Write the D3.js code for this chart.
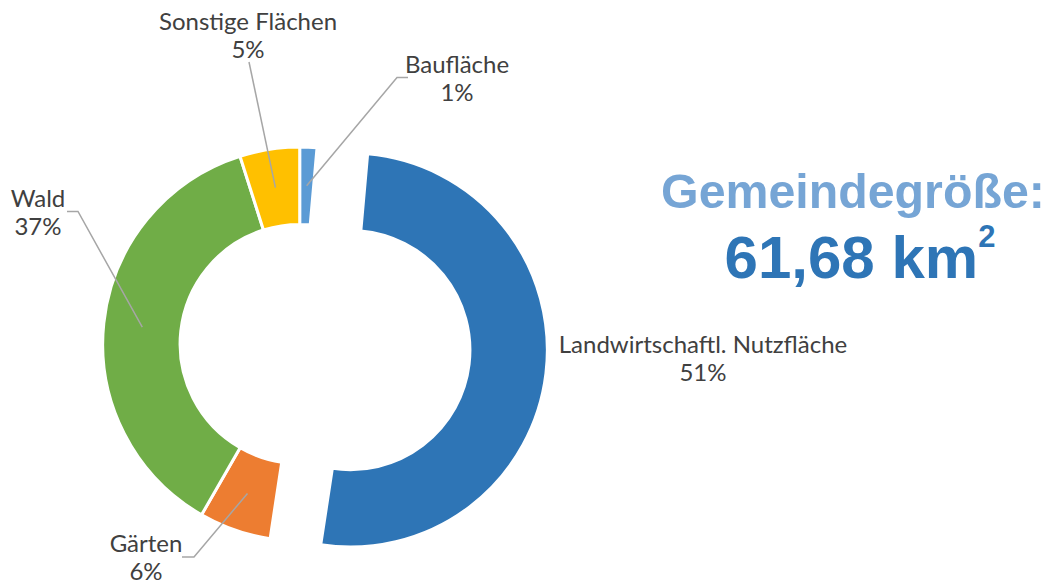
<!DOCTYPE html>
<html>
<head>
<meta charset="utf-8">
<script src="https://cdn.jsdelivr.net/npm/d3@7"></script>
<style>
  body { margin: 0; background: #fff; }
  svg { display: block; }
</style>
</head>
<body>
<div class="chartContainer"></div>
<script>
var width = 1048,
	height = 581;

// Flächennutzung (Anteile in %), Reihenfolge im Uhrzeigersinn ab 12 Uhr
var categories = ["Baufläche", "Landwirtschaftl. Nutzfläche", "Gärten", "Wald", "Sonstige Flächen"];
var shares = [1.4, 51.0, 5.9, 36.8, 4.9];
var colors = ["#5B9BD5", "#2E75B6", "#ED7D31", "#70AD47", "#FFC000"];
var exploded = ["Landwirtschaftl. Nutzfläche"];
var titleText = "Gemeindegröße:";
var areaText = "61,68 km";

var cx = 299.7, cy = 344,
	outerR = 197, innerR = 119.6,
	explodeBy = 51,
	lineH = 28;

// Beschriftungen: Textmitte (x) und Grundlinie der ersten Zeile, plus Knick der Führungslinie
var labelPos = {
	"Sonstige Flächen":            {x: 248, y: 30,  line: [[249, 62]]},
	"Baufläche":                   {x: 457, y: 73,  line: [[397, 77.5], [408, 77.5]]},
	"Wald":                        {x: 38,  y: 207, line: [[78, 211.5], [67, 211.5]]},
	"Gärten":                      {x: 146, y: 552, line: [[194, 557], [182, 557]]},
	"Landwirtschaftl. Nutzfläche": {x: 703, y: 353, line: null}
};

var data = categories.map(function(c, i) {
	return {name: c, value: shares[i], color: colors[i]};
});

var svg = d3.select("div.chartContainer")
	.append("svg")
	.attr("width", width)
	.attr("height", height);

var pie = d3.pie()
	.sort(null)
	.value(function(d) { return d.value; })
	.startAngle(0)
	.endAngle(2 * Math.PI);

var arc = d3.arc()
	.innerRadius(innerR)
	.outerRadius(outerR);

var arcs = pie(data);

var g = svg.append("g")
	.attr("transform", "translate(" + cx + "," + cy + ")");

function shift(d) {
	if (exploded.indexOf(d.data.name) < 0) return [0, 0];
	var a = (d.startAngle + d.endAngle) / 2;
	return [Math.sin(a) * explodeBy, -Math.cos(a) * explodeBy];
}

g.selectAll("path.slice")
	.data(arcs)
	.enter()
	.append("path")
	.attr("class", "slice")
	.attr("d", arc)
	.attr("transform", function(d) { var s = shift(d); return "translate(" + s[0] + "," + s[1] + ")"; })
	.attr("fill", function(d) { return d.data.color; })
	.attr("stroke", "#fff")
	.attr("stroke-width", 3)
	.attr("stroke-linejoin", "miter");

// Führungslinien vom Ringmittelpunkt des Segments zur Beschriftung
arcs.forEach(function(d) {
	var lp = labelPos[d.data.name];
	if (!lp.line) return;
	var c = arc.centroid(d), s = shift(d);
	var pts = [[cx + c[0] + s[0], cy + c[1] + s[1]]].concat(lp.line);
	svg.append("path")
		.attr("d", d3.line()(pts))
		.attr("fill", "none")
		.attr("stroke", "#A6A6A6")
		.attr("stroke-width", 1.5);
});

var labels = svg.selectAll("text.label")
	.data(arcs)
	.enter()
	.append("text")
	.attr("class", "label")
	.attr("text-anchor", "middle")
	.attr("font-family", "Lato, 'Open Sans', sans-serif")
	.attr("font-size", 24)
	.attr("fill", "#404040");

labels.append("tspan")
	.attr("x", function(d) { return labelPos[d.data.name].x; })
	.attr("y", function(d) { return labelPos[d.data.name].y; })
	.text(function(d) { return d.data.name; });

labels.append("tspan")
	.attr("x", function(d) { return labelPos[d.data.name].x; })
	.attr("y", function(d) { return labelPos[d.data.name].y + lineH; })
	.text(function(d) { return Math.round(d.data.value) + "%"; });

// Gemeindegröße
svg.append("text")
	.attr("x", 853)
	.attr("y", 208)
	.attr("text-anchor", "middle")
	.attr("font-family", "'Liberation Sans', Arial, sans-serif")
	.attr("font-weight", "bold")
	.attr("font-size", 48.3)
	.attr("fill", "#76A5D5")
	.text(titleText);

var area = svg.append("text")
	.attr("x", 860)
	.attr("y", 278)
	.attr("text-anchor", "middle")
	.attr("font-family", "'Liberation Sans', Arial, sans-serif")
	.attr("font-weight", "bold")
	.attr("font-size", 60)
	.attr("fill", "#2E75B6");

area.append("tspan").text(areaText);
area.append("tspan")
	.attr("dy", -31)
	.attr("font-size", 31)
	.text("2");
</script>
</body>
</html>
